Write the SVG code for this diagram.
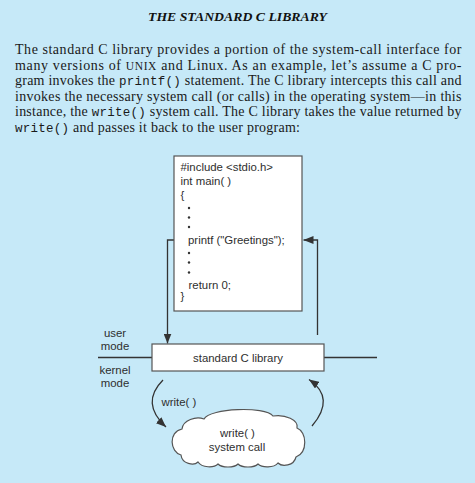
<svg xmlns="http://www.w3.org/2000/svg" width="475" height="483" viewBox="0 0 475 483">
<defs>
<style>
.title{font-family:"Liberation Serif",serif;font-weight:bold;font-style:italic;font-size:13px;fill:#111}
.para{font-family:"Liberation Serif",serif;font-size:14px;fill:#1a1a1a}
.mono{font-family:"Liberation Mono",monospace;font-size:12.5px}
.sc{font-size:11.5px}
.lbl{font-family:"Liberation Sans",Arial,sans-serif;font-size:11.4px;fill:#2e2e2e}
.box{fill:#fff;stroke:#555;stroke-width:1.2}
.ln{fill:none;stroke:#333;stroke-width:1.3}
</style>
<marker id="ah" viewBox="0 0 10 8" refX="10" refY="4" markerWidth="10" markerHeight="8" markerUnits="userSpaceOnUse" orient="auto">
<path d="M0,0 L10,4 L0,8 Z" fill="#333"/>
</marker>
</defs>
<rect x="0" y="0" width="475" height="483" fill="#c6e9f8"/>
<text class="title" x="237.5" y="21" text-anchor="middle" textLength="179" lengthAdjust="spacingAndGlyphs">THE STANDARD C LIBRARY</text>
<g id="paragraph">
<text class="para" x="15" y="54" textLength="446.5" lengthAdjust="spacing">The standard C library provides a portion of the system-call interface for</text>
<text class="para" x="15" y="69.6" textLength="446.5" lengthAdjust="spacing">many versions of <tspan class="sc">UNIX</tspan> and Linux. As an example, let’s assume a C pro-</text>
<text class="para" x="15" y="85.2" textLength="446.5" lengthAdjust="spacing">gram invokes the <tspan class="mono">printf()</tspan> statement. The C library intercepts this call and</text>
<text class="para" x="15" y="100.8" textLength="446.5" lengthAdjust="spacing">invokes the necessary system call (or calls) in the operating system—in this</text>
<text class="para" x="15" y="116.4" textLength="446.5" lengthAdjust="spacing">instance, the <tspan class="mono">write()</tspan> system call. The C library takes the value returned by</text>
<text class="para" x="15" y="132" textLength="285" lengthAdjust="spacing"><tspan class="mono">write()</tspan> and passes it back to the user program:</text>
</g>
<g id="connectors">
<line class="ln" x1="98" y1="357.5" x2="377" y2="357.5"/>
<path class="ln" d="M187.5,240 H167.5 V343.5" marker-end="url(#ah)"/>
<path class="ln" d="M317.5,335 V240 H303.5" marker-end="url(#ah)"/>
<path class="ln" d="M163,380 Q140,403 166,427" marker-end="url(#ah)"/>
<path class="ln" d="M312,426 Q336,398 309,379.5" marker-end="url(#ah)"/>
</g>
<g id="program">
<rect class="box" x="174" y="156" width="128" height="155"/>
<text class="lbl" x="180.5" y="171">#include &lt;stdio.h&gt;</text>
<text class="lbl" x="180.5" y="185">int main( )</text>
<text class="lbl" x="180.5" y="199">{</text>
<g fill="#333">
<circle cx="189" cy="208" r="1.2"/>
<circle cx="189" cy="217.5" r="1.2"/>
<circle cx="189" cy="227" r="1.2"/>
<circle cx="189" cy="253" r="1.2"/>
<circle cx="189" cy="262.5" r="1.2"/>
<circle cx="189" cy="272.5" r="1.2"/>
</g>
<text class="lbl" x="188" y="244">printf ("Greetings");</text>
<text class="lbl" x="188.5" y="289">return 0;</text>
<text class="lbl" x="180.5" y="300">}</text>
</g>
<g id="library">
<rect class="box" x="152" y="344" width="172" height="27"/>
<text class="lbl" x="238" y="362" text-anchor="middle">standard C library</text>
</g>
<g id="user-mode">
<text class="lbl" x="115" y="337" text-anchor="middle">user</text>
<text class="lbl" x="115" y="349.5" text-anchor="middle">mode</text>
</g>
<g id="kernel-mode">
<text class="lbl" x="115" y="374" text-anchor="middle">kernel</text>
<text class="lbl" x="115" y="386.5" text-anchor="middle">mode</text>
</g>
<g id="write-label">
<text class="lbl" x="161.5" y="406">write( )</text>
</g>
<g id="system-call">
<path class="box" d="M181,455 C170,452 168,432 182,429 C183,420 196,416 204,419 C210,408 265,406 273,416 C285,414 299,420 297,428 C307,432 308,452 296,457 C294,466 282,467 278,463 C274,468 262,468 258,464 C254,468 242,468 238,464 C234,468 222,468 218,464 C214,468 202,468 198,462 C194,466 182,464 181,455 Z"/>
<text class="lbl" x="237.5" y="436.5" text-anchor="middle">write( )</text>
<text class="lbl" x="237" y="450.5" text-anchor="middle">system call</text>
</g>
</svg>
